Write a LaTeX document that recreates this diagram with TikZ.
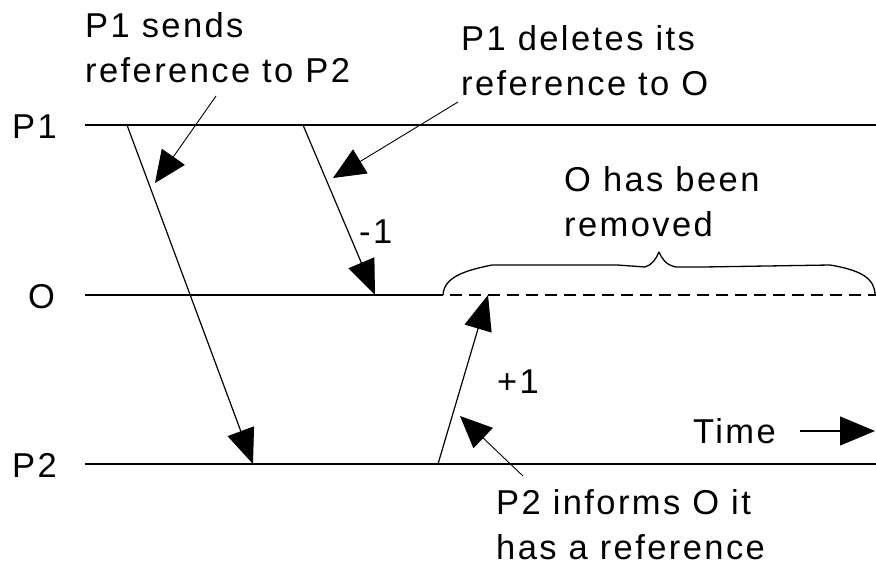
\documentclass[tikz,border=0pt]{standalone}
\usepackage{fontspec}
\setmainfont{Liberation Sans}[LetterSpace=7]
\usetikzlibrary{arrows.meta}
\begin{document}
\begin{tikzpicture}[x=1pt,y=-1pt,
  lbl/.style={inner sep=0pt, font=\fontsize{34.5}{45}\selectfont},
  blk/.style={lbl, align=left, anchor=north west},
  timeline/.style={line width=1.6pt},
  msg/.style={line width=1.2pt, -{Triangle[length=35pt,width=28pt]}},
  ptr/.style={line width=0.9pt, -{Triangle[length=32pt,width=28pt]}},
  bracestyle/.style={line width=1.3pt, line join=round},
]
\useasboundingbox (0,0) rectangle (876,566);

% timelines
\coordinate (p1l) at (85,125);  \coordinate (p1r) at (876,125);
\coordinate (ol)  at (85,295);  \coordinate (om)  at (443,295); \coordinate (or) at (876,295);
\coordinate (p2l) at (85,464);  \coordinate (p2r) at (876,464);
\draw[timeline] (p1l) -- (p1r);
\draw[timeline] (ol) -- (om);
\draw[timeline, dash pattern=on 12pt off 7pt] (om) ++(7,0) -- (or);
\draw[timeline] (p2l) -- (p2r);

% timeline labels
\node[lbl, anchor=base west] (lp1) at (12,138) {P1};
\node[lbl, anchor=base west] (lo)  at (28,308) {O};
\node[lbl, anchor=base west] (lp2) at (12,477) {P2};

% messages
\coordinate (m1s) at (127,125); \coordinate (m1e) at (253,464);
\coordinate (m2s) at (303,125); \coordinate (m2e) at (375,295);
\coordinate (m3s) at (438,464); \coordinate (m3e) at (488,295);
\draw[msg] (m1s) -- (m1e);
\draw[msg] (m2s) -- (m2e);
\draw[msg] (m3s) -- (m3e);
\node[lbl, anchor=base west] (minus) at (359,243) {-1};
\node[lbl, anchor=base west] (plus)  at (497,393) {+1};

% annotations
\node[blk] (t1) at (85,12)   {P1 sends\\reference to P2};
\node[blk] (t2) at (461,25)  {P1 deletes its\\reference to O};
\node[blk] (t3) at (564,166) {O has been\\removed};
\node[blk] (t4) at (496,489) {P2 informs O it\\has a reference};

\coordinate (q1s) at (216,96);  \coordinate (q1e) at (155,183);
\coordinate (q2s) at (458,102); \coordinate (q2e) at (333,178);
\coordinate (q3s) at (523,476); \coordinate (q3e) at (460,416);
\draw[ptr] (q1s) -- (q1e);
\draw[ptr] (q2s) -- (q2e);
\draw[ptr] (q3s) -- (q3e);

% brace
\draw[bracestyle] (443,295) .. controls (444,278) and (462,271) .. (492,265)
  -- (617,265) -- (645,267) .. controls (652,265) and (656,259) .. (659,252)
  .. controls (662,259) and (666,265) .. (676,267) -- (703,267) -- (830,265)
  .. controls (860,270) and (875,278) .. (875,295);

% time
\node[lbl, anchor=base west] (time) at (693,443) {Time};
\coordinate (ta) at (800,431); \coordinate (tb) at (875,431);
\draw[line width=1.2pt, -{Triangle[length=35pt,width=29pt]}] (ta) -- (tb);
\end{tikzpicture}
\end{document}
